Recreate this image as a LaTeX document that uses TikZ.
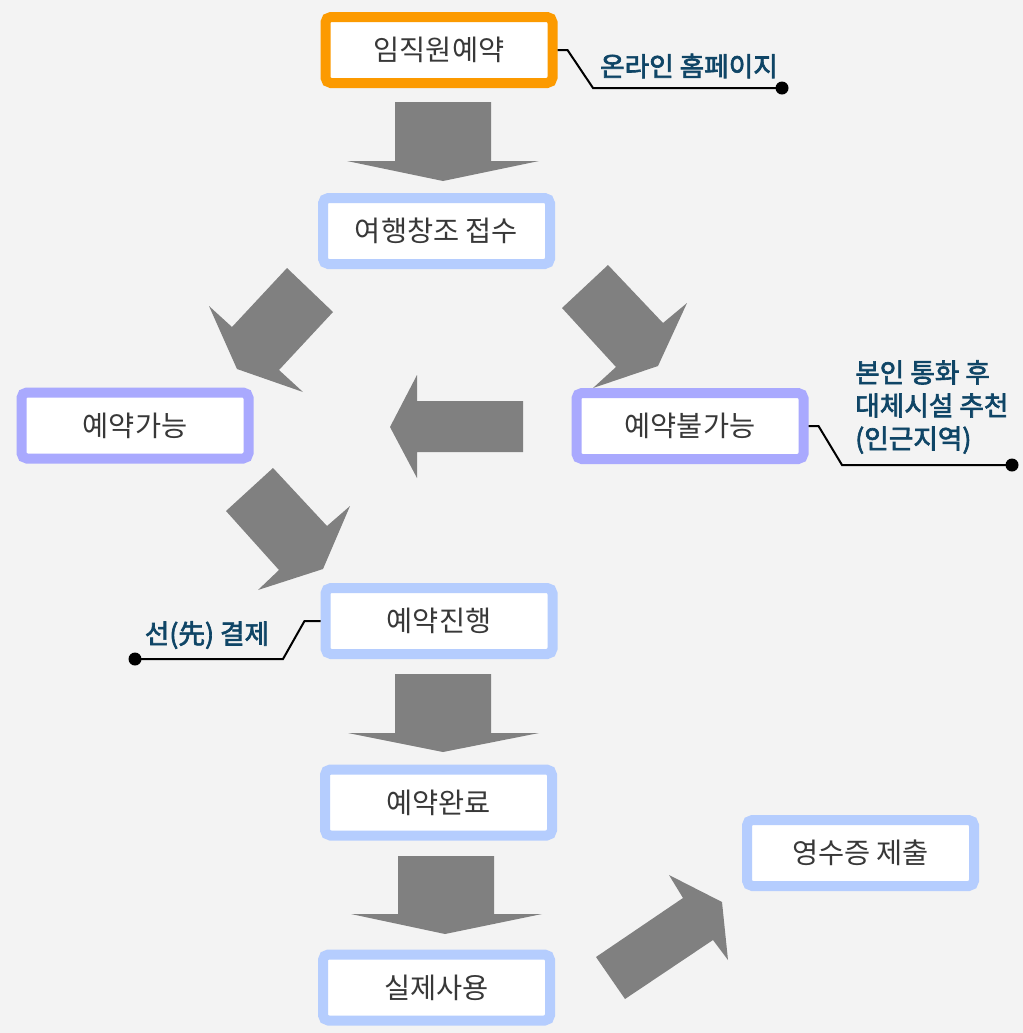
\documentclass[tikz,border=0pt]{standalone}
\usepackage{fontspec}
\newfontfamily\kr{Noto Sans CJK KR}
\newfontfamily\krm[FakeBold=2.5]{Noto Sans CJK KR}
\definecolor{bgcol}{HTML}{F3F3F3}
\definecolor{orng}{HTML}{FC9A00}
\definecolor{lblue}{HTML}{B5CDFE}
\definecolor{purp}{HTML}{A9A9FE}
\definecolor{txt}{HTML}{383838}
\definecolor{noteblue}{HTML}{0F4566}
\definecolor{arrgray}{HTML}{808080}
\begin{document}
\begin{tikzpicture}[x=0.75pt,y=-0.75pt,
  box/.style={draw, line width=7.5pt, rounded corners=4pt, fill=white,
    minimum width=170.25pt, minimum height=49.5pt, inner sep=0pt,
    font=\kr\fontsize{21.3}{24}\selectfont, text=txt},
  orangebox/.style={box, draw=orng},
  bluebox/.style={box, draw=lblue},
  purplebox/.style={box, draw=purp},
  arr/.style={fill=arrgray, draw=none},
  lead/.style={line width=1.5pt, draw=black},
  dotn/.style={circle, fill=black, inner sep=0pt, minimum size=9.75pt},
  note/.style={font=\krm\fontsize{20}{24.75}\selectfont, text=noteblue, inner sep=0pt}]
\fill[bgcol] (0,0) rectangle (1023,1033);
\useasboundingbox (0,0) rectangle (1023,1033);

% boxes
\node[orangebox] (b1) at (439,50) {임직원예약};
\node[bluebox] (b2) at (436.5,231) {여행창조 접수};
\node[purplebox] (b3) at (135,425.5) {예약가능};
\node[purplebox] (b4) at (690,426) {예약불가능};
\node[bluebox] (b5) at (439,621) {예약진행};
\node[bluebox] (b6) at (438.5,802.5) {예약완료};
\node[bluebox] (b7) at (436.5,987.5) {실제사용};
\node[bluebox] (b8) at (860.5,853) {영수증 제출};

% block arrows
\fill[arr] (395,102) -- (491,102) -- (491,161) -- (539,161) -- (443,181) -- (347,161) -- (395,161) -- cycle;
\fill[arr] (395,674) -- (491,674) -- (491,733) -- (539,733) -- (443,752) -- (348,733) -- (395,733) -- cycle;
\fill[arr] (398,856) -- (494,856) -- (494,914) -- (542,914) -- (445,934) -- (351,914) -- (398,914) -- cycle;
\fill[arr] (287,268) -- (333,312) -- (279,370) -- (303,392) -- (237,369) -- (209,306) -- (232,327) -- cycle;
\fill[arr] (608,265) -- (663,323) -- (687,303) -- (658,366) -- (593,388) -- (616,367) -- (562,308) -- cycle;
\fill[arr] (390,427) -- (417,375) -- (417,401) -- (523,401) -- (523,452) -- (417,452) -- (417,478) -- cycle;
\fill[arr] (273,468) -- (327,526) -- (350,506) -- (323,569) -- (258,590) -- (279,570) -- (226,511) -- cycle;
\fill[arr] (596,957) -- (683,898) -- (669,875) -- (722,902) -- (728,960) -- (713,940) -- (625,999) -- cycle;

% notes
\node[dotn] (d1) at (782,88) {};
\node[dotn] (d2) at (1012,465) {};
\node[dotn] (d3) at (135,659) {};
\draw[lead] (b1.east) -- ++(10,0) -- (593,88) -- (d1.center);
\draw[lead] (b4.east) -- ++(10,0) -- (842,465) -- (d2.center);
\draw[lead] (b5.west) -- ++(-16,0) -- (283,659) -- (d3.center);
\node[note] (n1) at (689,66) {온라인 홈페이지};
\node[note, align=left, anchor=west] (n2) at (855,407) {본인 통화 후\\대체시설 추천\\(인근지역)};
\node[note] (n3) at (207,635) {선(先) 결제};
\end{tikzpicture}
\end{document}
